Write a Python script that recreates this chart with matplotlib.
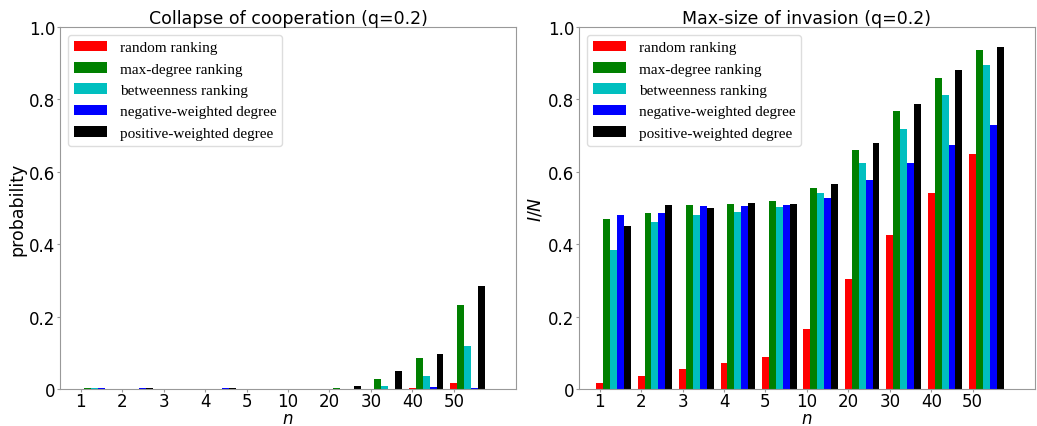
import numpy as np
from matplotlib import pyplot as plt

n_labels = ['1', '2', '3', '4', '5', '10', '20', '30', '40', '50']
series = ['random ranking', 'max-degree ranking', 'betweenness ranking',
          'negative-weighted degree', 'positive-weighted degree']
colors = ['red', 'green', 'c', 'blue', 'black']

# collapse probability (q=0.2)
p_random = [0, 0, 0, 0, 0, 0, 0, 0, 0.004, 0.017]
p_maxdeg = [0.002, 0.001, 0.001, 0.001, 0, 0, 0.004, 0.028, 0.086, 0.231]
p_betw = [0.002, 0.001, 0.001, 0.001, 0, 0, 0, 0.008, 0.035, 0.12]
p_neg = [0.002, 0.003, 0.001, 0.003, 0, 0, 0, 0, 0.005, 0.004]
p_pos = [0, 0.003, 0, 0.003, 0, 0, 0.008, 0.05, 0.096, 0.285]

# max size of invasion I/N (q=0.2)
i_random = [0.017, 0.036, 0.056, 0.071, 0.088, 0.165, 0.303, 0.425, 0.54, 0.65]
i_maxdeg = [0.47, 0.485, 0.507, 0.512, 0.518, 0.556, 0.661, 0.767, 0.86, 0.935]
i_betw = [0.385, 0.46, 0.48, 0.49, 0.504, 0.541, 0.623, 0.718, 0.811, 0.895]
i_neg = [0.48, 0.485, 0.505, 0.505, 0.508, 0.527, 0.576, 0.624, 0.675, 0.73]
i_pos = [0.45, 0.508, 0.5, 0.515, 0.51, 0.565, 0.679, 0.788, 0.88, 0.945]

x = np.arange(1, len(n_labels) + 1)
w = 1 / 6

fig = plt.figure(figsize=(10.37, 4.27), dpi=100)
ax1 = fig.add_axes([0.0579, 0.0867, 0.4397, 0.8478])
ax2 = fig.add_axes([0.5583, 0.0867, 0.4397, 0.8478])


def draw(ax, data, title, ylabel):
    for k, (vals, c, lab) in enumerate(zip(data, colors, series)):
        ax.bar(x + k * w, vals, width=w, color=c, label=lab)
    ax.set_xlim(0.5, 11.5)
    ax.set_ylim(0, 1.0)
    ax.set_xticks(x)
    ax.set_xticklabels(n_labels, fontsize=12)
    ax.set_yticks([0, 0.2, 0.4, 0.6, 0.8, 1.0])
    ax.set_yticklabels(['0', '0.2', '0.4', '0.6', '0.8', '1.0'], fontsize=12)
    ax.set_xlabel('$n$', fontsize=12, labelpad=-1)
    ax.set_ylabel(ylabel, fontsize=12.5, labelpad=2)
    ax.set_title(title, fontsize=12.5, pad=2)
    for s in ax.spines.values():
        s.set_color('#999999')
    ax.tick_params(colors='#999999', labelcolor='black', length=2, pad=1.5)
    ax.tick_params(axis='x', pad=0.5)
    ax.legend(loc='upper left', prop={'family': 'Liberation Serif', 'size': 11},
              handlelength=2.2, framealpha=1, edgecolor='#dddddd')


draw(ax1, [p_random, p_maxdeg, p_betw, p_neg, p_pos],
     'Collapse of cooperation (q=0.2)', 'probability')
draw(ax2, [i_random, i_maxdeg, i_betw, i_neg, i_pos],
     'Max-size of invasion (q=0.2)', '$I/N$')

plt.savefig('out.png', dpi=100)
